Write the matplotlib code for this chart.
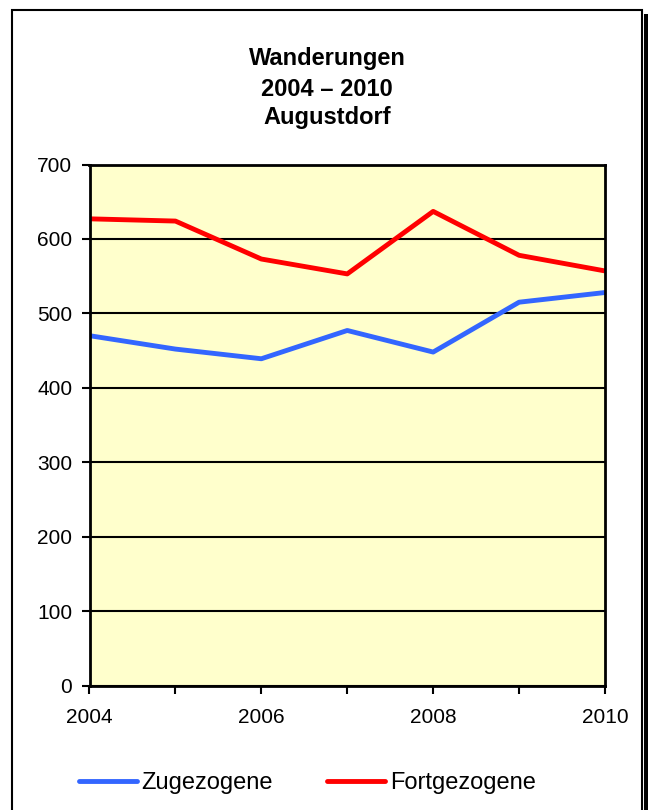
import matplotlib
matplotlib.use("Agg")
import matplotlib.pyplot as plt
from matplotlib.patches import Rectangle
from matplotlib.lines import Line2D

plt.rcParams['font.family'] = ['Liberation Sans', 'DejaVu Sans']

years = [2004, 2005, 2006, 2007, 2008, 2009, 2010]
zugezogene = [470, 452, 439, 477, 448, 515, 528]
fortgezogene = [627, 624, 573, 553, 637, 578, 557]
year_labels = ['2004', '', '2006', '', '2008', '', '2010']

fig = plt.figure(figsize=(6.48, 8.1), dpi=100)
W, H = 648, 810

# frame with shadow (behind the axes)
fig.patches.append(Rectangle((644 / W, -0.01), 5 / W, 1 - 14 / H + 0.01,
                             transform=fig.transFigure, facecolor='black',
                             edgecolor='none', zorder=-3))
fig.patches.append(Rectangle((12 / W, -0.01), 629.5 / W, 1 - 10 / H + 0.01,
                             transform=fig.transFigure, facecolor='white',
                             edgecolor='black', linewidth=1.5, zorder=-2))

ax = fig.add_axes([89.5 / W, 1 - 685.5 / H, 515.5 / W, 521 / H])
ax.set_facecolor('#FFFFCC')
ax.plot(years, zugezogene, color='#3366FF', lw=3.5, solid_capstyle='butt')
ax.plot(years, fortgezogene, color='#FF0000', lw=3.5, solid_capstyle='butt')

ax.set_xlim(2004, 2010)
ax.set_ylim(0, 700)
ax.set_yticks(range(0, 701, 100))
ax.set_xticks(years)
ax.set_xticklabels(year_labels)
ax.yaxis.grid(True, color='black', lw=1.5)
ax.set_axisbelow(True)
for s in ax.spines.values():
    s.set_linewidth(2)
ax.tick_params(direction='out', length=6, width=1.5, labelsize=15, pad=6.5)
ax.tick_params(axis='x', pad=10)

for txt, y in [('Wanderungen', 65), ('2004 – 2010', 95.5), ('Augustdorf', 124)]:
    fig.text(327 / W, 1 - y / H, txt, ha='center', va='baseline',
             fontsize=17, fontweight='bold')

handles = [Line2D([], [], color='#3366FF', lw=3.5, solid_capstyle='round'),
           Line2D([], [], color='#FF0000', lw=3.5, solid_capstyle='round')]
fig.legend(handles, ['Zugezogene', 'Fortgezogene'], loc='center left',
           bbox_to_anchor=(79 / W, 1 - 783 / H), ncol=2, frameon=False,
           borderpad=0, borderaxespad=0, fontsize=17, handlelength=2.45,
           handletextpad=0.2, columnspacing=2.3)

fig.savefig('out.png', dpi=100)
